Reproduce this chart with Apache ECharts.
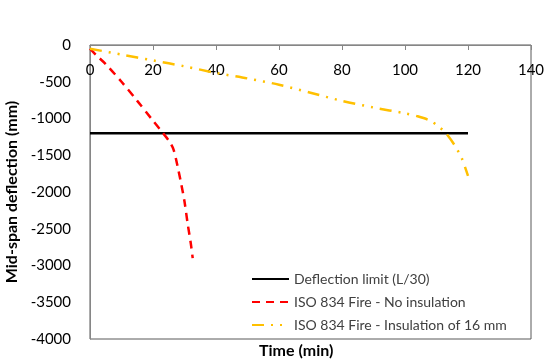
<!DOCTYPE html>
<html>
<head>
<meta charset="utf-8">
<script src="https://cdn.jsdelivr.net/npm/echarts@6/dist/echarts.min.js"></script>
<style>
  html, body { margin: 0; padding: 0; background: #fff; }
  #chart { width: 545px; height: 364px; }
</style>
</head>
<body>
<div id="chart"></div>
<script>
// time (min) vs mid-span deflection (mm)
var limitData = [[0, -1200], [120, -1200]];
var noInsulation = [
  [0, -50], [2, -140], [5, -260], [10, -500], [15, -760], [20, -1030],
  [23, -1190], [25, -1300], [26.5, -1420], [27.8, -1650], [29, -1900],
  [30, -2130], [31, -2430], [32, -2700], [32.6, -2900]
];
var insulation16 = [
  [0, -50], [10, -130], [20, -210], [30, -290], [40, -380], [50, -455],
  [60, -540], [70, -650], [80, -760], [90, -850], [100, -930], [104, -970],
  [108, -1030], [111, -1120], [113, -1200], [116, -1380], [118, -1540], [120, -1780]
];
var xTicks = { min: 0, max: 140, step: 20 };
var yTicks = { min: -4000, max: 0, step: 500 };

var chart = echarts.init(document.getElementById("chart"));
var font = "Lato, 'DejaVu Sans', sans-serif";

chart.setOption({
  animation: false,
  textStyle: { fontFamily: font },
  grid: {
    left: 90, right: 14, top: 45, bottom: 25,
    outerBoundsMode: "none",
    show: true, borderColor: "#595959", borderWidth: 1
  },
  legend: {
    orient: "vertical",
    left: 246, top: 267,
    itemWidth: 37, itemHeight: 10, itemGap: 9,
    itemStyle: { opacity: 0 },
    textStyle: { fontSize: 14, color: "#404040", fontFamily: font },
    data: ["Deflection limit (L/30)", "ISO 834 Fire - No insulation", "ISO 834 Fire - Insulation of 16 mm"]
  },
  xAxis: {
    type: "value",
    position: "top",
    min: xTicks.min, max: xTicks.max, interval: xTicks.step,
    axisLine: { onZero: false, lineStyle: { color: "#868686" } },
    axisTick: { show: true, inside: true, length: 5, lineStyle: { color: "#868686" } },
    axisLabel: { inside: true, margin: 18, fontSize: 15, color: "#000" },
    splitLine: { show: false }
  },
  yAxis: {
    type: "value",
    min: yTicks.min, max: yTicks.max, interval: yTicks.step,
    name: "Mid-span deflection (mm)",
    nameLocation: "middle", nameGap: 63, nameRotate: 90,
    nameTextStyle: { fontSize: 16, fontWeight: "bold", color: "#000" },
    axisLine: { show: true, lineStyle: { color: "#868686" } },
    axisTick: { show: false },
    axisLabel: { margin: 19, fontSize: 15, color: "#000", formatter: function (v) { return String(v); } },
    splitLine: { show: false }
  },
  graphic: [{
    type: "text",
    left: 259, top: 343,
    style: { text: "Time (min)", font: "bold 16px " + font, fill: "#000" }
  }],
  series: [
    {
      name: "Deflection limit (L/30)", type: "line", data: limitData,
      showSymbol: false,
      lineStyle: { color: "#000", width: 2.5 }, itemStyle: { color: "#000" }
    },
    {
      name: "ISO 834 Fire - No insulation", type: "line", data: noInsulation,
      showSymbol: false, smooth: 0.3,
      lineStyle: { color: "#FF0000", width: 2.5, type: [8, 6] }, itemStyle: { color: "#FF0000" }
    },
    {
      name: "ISO 834 Fire - Insulation of 16 mm", type: "line", data: insulation16,
      showSymbol: false, smooth: 0.3,
      lineStyle: { color: "#FFC000", width: 2.5, type: [12, 7, 2, 7, 2, 7] }, itemStyle: { color: "#FFC000" }
    }
  ]
});
</script>
</body>
</html>
